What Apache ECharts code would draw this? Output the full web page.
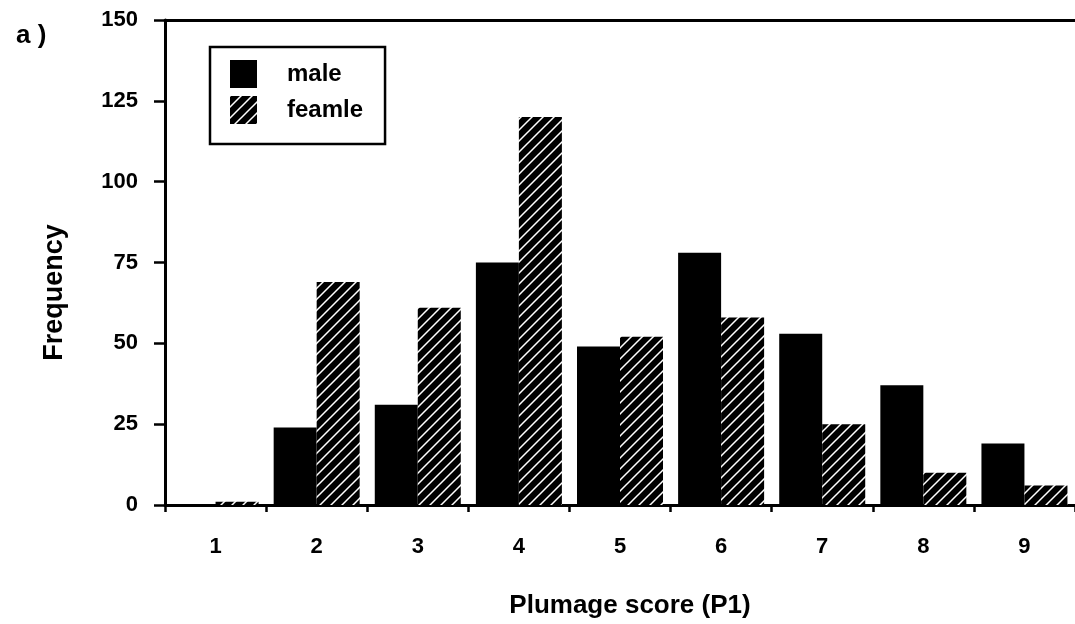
<!DOCTYPE html>
<html>
<head>
<meta charset="utf-8">
<script src="https://cdn.jsdelivr.net/npm/echarts@6/dist/echarts.min.js"></script>
<style>
  html, body { margin: 0; padding: 0; background: #fff; }
  #chart { width: 1075px; height: 624px; }
</style>
</head>
<body>
<div id="chart"></div>
<script>
// Plumage score categories and frequencies by sex
const scores = ['1', '2', '3', '4', '5', '6', '7', '8', '9'];
const maleFreq = [0, 24, 31, 75, 49, 78, 53, 37, 19];
const femaleFreq = [1, 69, 61, 120, 52, 58, 25, 10, 6];
const yTicks = { min: 0, max: 150, interval: 25 };

// Black fill with thin white diagonal hatching for the female bars
function hatchPattern() {
  const size = 11;
  const c = document.createElement('canvas');
  c.width = size; c.height = size;
  const ctx = c.getContext('2d');
  ctx.fillStyle = '#000';
  ctx.fillRect(0, 0, size, size);
  ctx.strokeStyle = '#fff';
  ctx.lineWidth = 1.5;
  ctx.beginPath();
  ctx.moveTo(-2, size + 2); ctx.lineTo(size + 2, -2);
  ctx.moveTo(-2, 2); ctx.lineTo(2, -2);
  ctx.moveTo(size - 2, size + 2); ctx.lineTo(size + 2, size - 2);
  ctx.stroke();
  return { image: c, repeat: 'repeat' };
}

const font = '"Liberation Sans", Arial, Helvetica, sans-serif';
const chart = echarts.init(document.getElementById('chart'), null, { renderer: 'canvas' });

chart.setOption({
  animation: false,
  backgroundColor: '#fff',
  title: {
    text: 'a )',
    left: 11,
    top: 18,
    textStyle: { fontFamily: font, fontWeight: 'bold', fontSize: 26, color: '#000' }
  },
  legend: {
    orient: 'vertical',
    left: 210,
    top: 47,
    itemWidth: 27,
    itemHeight: 28,
    itemGap: 8,
    padding: [13, 22, 20, 20],
    borderColor: '#000',
    borderWidth: 2.5,
    icon: 'rect',
    textStyle: { fontFamily: font, fontWeight: 'bold', fontSize: 24, color: '#000', padding: [0, 0, 0, 25] },
    data: ['male', 'feamle']
  },
  grid: { left: 165, top: 20, right: -5, bottom: 119, containLabel: false },
  xAxis: [{
    type: 'category',
    data: scores,
    boundaryGap: true,
    name: 'Plumage score (P1)',
    nameLocation: 'middle',
    nameGap: 88,
    nameTextStyle: { fontFamily: font, fontWeight: 'bold', fontSize: 26, color: '#000', padding: [0, 0, 0, 20] },
    axisLine: { lineStyle: { color: '#000', width: 3 } },
    axisTick: { show: true, length: 7, lineStyle: { color: '#000', width: 2.5 } },
    axisLabel: { margin: 31, fontFamily: font, fontWeight: 'bold', fontSize: 22, color: '#000' }
  }, {
    type: 'category',
    data: scores,
    position: 'top',
    axisLine: { show: true, lineStyle: { color: '#000', width: 3 } },
    axisTick: { show: false },
    axisLabel: { show: false }
  }],
  yAxis: {
    type: 'value',
    min: yTicks.min,
    max: yTicks.max,
    interval: yTicks.interval,
    name: 'Frequency',
    nameLocation: 'middle',
    nameGap: 97,
    nameRotate: 90,
    nameTextStyle: { fontFamily: font, fontWeight: 'bold', fontSize: 27, color: '#000', padding: [0, 60, 0, 0] },
    splitLine: { show: false },
    axisLine: { show: true, lineStyle: { color: '#000', width: 3 } },
    axisTick: { show: true, length: 11, lineStyle: { color: '#000', width: 2.5 } },
    axisLabel: { margin: 27, fontFamily: font, fontWeight: 'bold', fontSize: 22, color: '#000' }
  },
  series: [{
    name: 'male',
    type: 'bar',
    data: maleFreq,
    barWidth: 43,
    barGap: '0%',
    itemStyle: { color: '#000' }
  }, {
    name: 'feamle',
    type: 'bar',
    data: femaleFreq,
    barWidth: 43,
    barGap: '0%',
    itemStyle: { color: hatchPattern() }
  }]
});
</script>
</body>
</html>
